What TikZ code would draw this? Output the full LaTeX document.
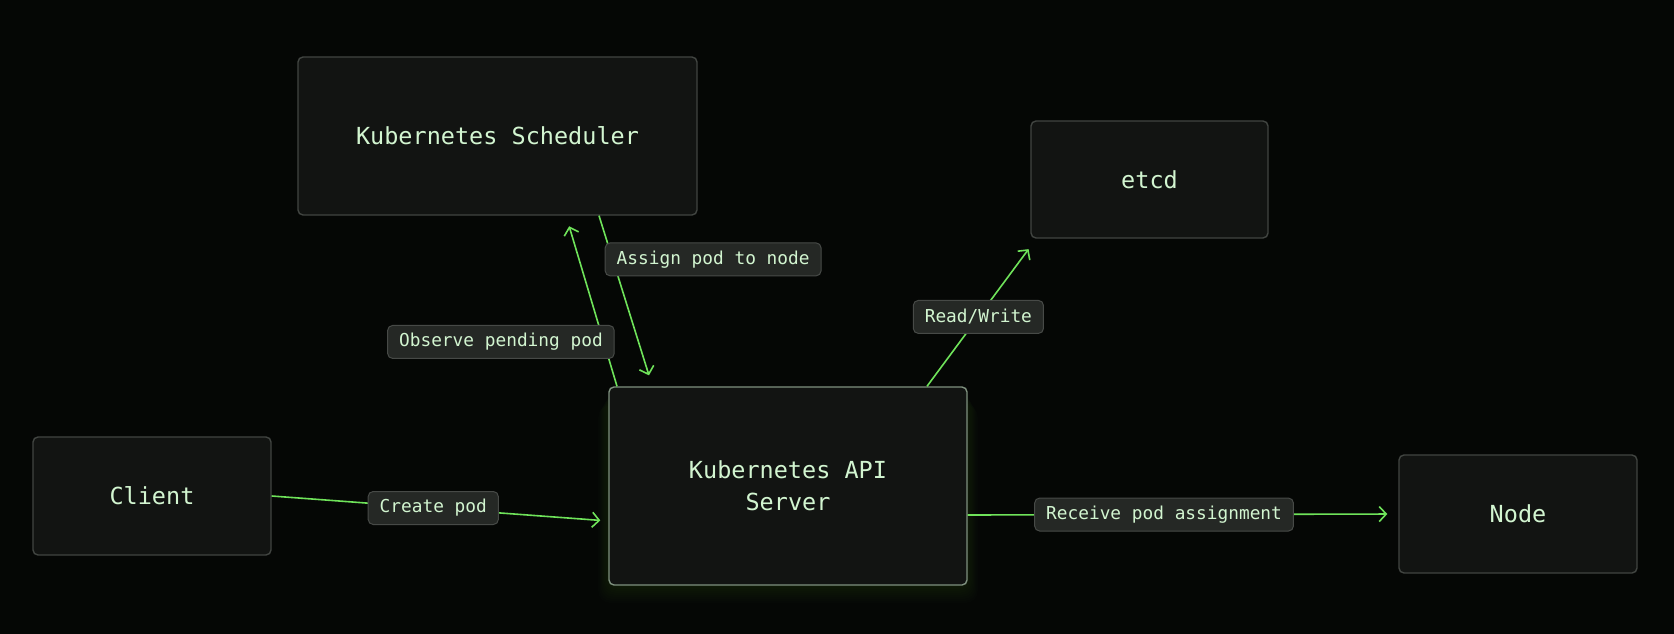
\documentclass[tikz,border=0pt]{standalone}
\usepackage{fontspec}
\setmonofont{DejaVu Sans Mono}
\usetikzlibrary{arrows.meta}
\definecolor{bgdark}{HTML}{050705}
\definecolor{boxfill}{HTML}{121412}
\definecolor{boxline}{HTML}{414541}
\definecolor{apiline}{HTML}{7F917F}
\definecolor{txtgreen}{HTML}{D2F5D0}
\definecolor{flowgreen}{HTML}{6FE35A}
\definecolor{lblfill}{HTML}{252825}
\definecolor{lblline}{HTML}{474A47}

\begin{document}
\begin{tikzpicture}[x=1pt,y=-1pt,
	box/.style={draw=boxline, fill=boxfill, rounded corners=5pt, line width=1.4pt,
		text=txtgreen, font=\ttfamily\fontsize{23.5}{32}\selectfont, align=center, inner sep=0pt},
	lbl/.style={draw=lblline, fill=lblfill, rounded corners=5pt, line width=1pt,
		text=txtgreen, font=\ttfamily\fontsize{17.8}{20}\selectfont, inner xsep=11.5pt,
		inner ysep=0pt, minimum height=33pt},
	flow/.style={draw=flowgreen, line width=1.6pt, -{Straight Barb[length=7pt,width=15pt]}}]
		\fill[bgdark] (0,0) rectangle (1674,634);
		\useasboundingbox (0,0) rectangle (1674,634);
		% glow under the api server
		\foreach \g in {2,4,...,18}
			\fill[flowgreen, opacity=0.011, rounded corners=12pt] (609-\g*0.6,387+\g) rectangle (967+\g*0.6,585+\g);
		
		\node[box, minimum width=399pt, minimum height=158pt] (sched) at (497.5,136) {Kubernetes Scheduler};
		\node[box, minimum width=237pt, minimum height=117pt] (etcd) at (1149.5,179.5) {etcd};
		\node[box, draw=apiline, minimum width=358pt, minimum height=198pt] (api) at (788,486) {Kubernetes API\\Server};
		\node[box, minimum width=238pt, minimum height=118pt] (client) at (152,496) {Client};
		\node[box, minimum width=238pt, minimum height=118pt] (node) at (1518,514) {Node};
		
		\draw[flow, shorten >=8pt] (client.east) -- node[lbl, pos=0.48] (lcreate) {Create pod} ([yshift=-35pt]api.west);
		\draw[flow, shorten >=11pt] ([yshift=-29pt]api.east) -- node[lbl, pos=0.456] (lreceive) {Receive pod assignment} (node.west);
		\draw[flow, shorten >=13pt] ([xshift=139pt]api.north) -- node[lbl, pos=0.47] (lrw) {Read/Write} ([xshift=6pt]etcd.south west);
		\draw[flow, shorten >=11pt] ([xshift=-171pt]api.north) -- node[lbl, pos=0.26, anchor=east, xshift=11pt] (lobserve) {Observe pending pod} ([xshift=68.5pt]sched.south);
		\draw[flow, shorten >=11.5pt] ([xshift=101.5pt]sched.south) -- node[lbl, pos=0.256, anchor=west, xshift=-8pt] (lassign) {Assign pod to node} ([xshift=-135.6pt]api.north);
\end{tikzpicture}
\end{document}
